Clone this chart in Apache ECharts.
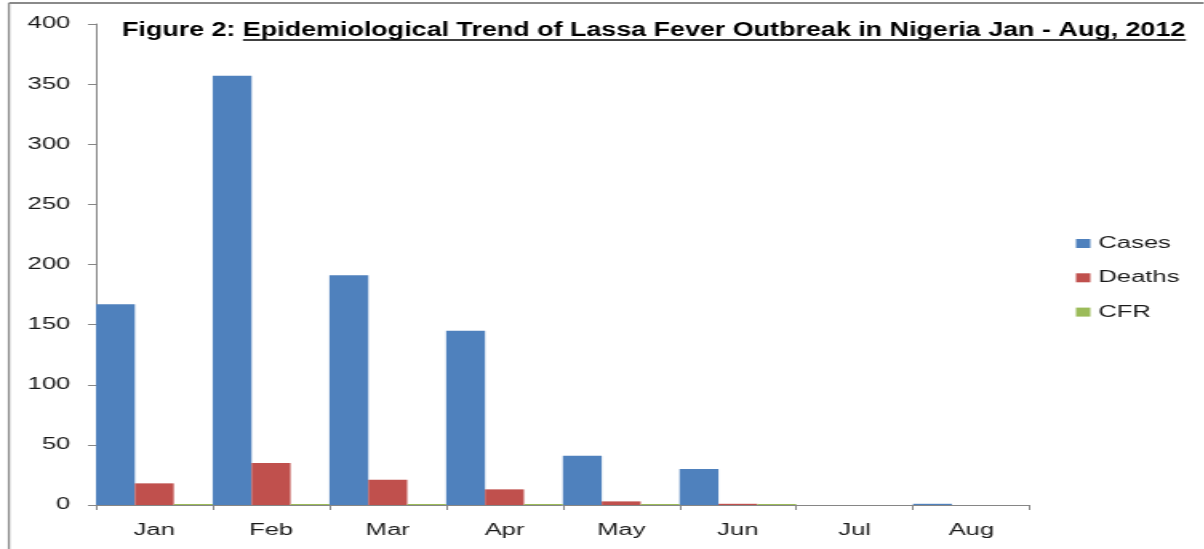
<!DOCTYPE html>
<html><head><meta charset="utf-8">
<script src="https://cdn.jsdelivr.net/npm/echarts@6/dist/echarts.min.js"></script>
<style>
html,body{margin:0;padding:0;background:#fff;overflow:hidden;width:1204px;height:549px;}
#chart{width:752.5px;height:549px;transform:scaleX(1.6);transform-origin:0 0;}
</style></head><body><div id="chart"></div>
<script>
const categories = ['Jan', 'Feb', 'Mar', 'Apr', 'May', 'Jun', 'Jul', 'Aug'];
const cases  = [167, 357, 191, 145, 41, 30, 0, 1];
const deaths = [18, 35, 21, 13, 3, 1, 0, 0];
const cfr    = [0.11, 0.10, 0.11, 0.09, 0.07, 0.03, null, null];
const seriesNames = ['Cases', 'Deaths', 'CFR'];
const yMin = 0, yMax = 400, yStep = 50;
const titleLead = 'Figure 2: ';
const titleMain = 'Epidemiological Trend of Lassa Fever Outbreak in Nigeria Jan - Aug, 2012';

const SX = 1.6;
const FONT = '"Liberation Sans", Arial, sans-serif';
const ctx = document.createElement('canvas').getContext('2d');
function tw(t, size, weight) { ctx.font = weight + ' ' + size + 'px ' + FONT; return ctx.measureText(t).width; }
const titleLeft = 122 / SX, titleRight = 1186 / SX;
const TK = 0.82; // horizontal squeeze of the title glyphs (narrower face look)
const tSize = 100 * (titleRight - titleLeft) / (tw(titleLead + titleMain, 100, 'bold') * TK);
const leadW = tw(titleLead, tSize, 'bold') * TK;

const colors = ['#4F81BD', '#C0504D', '#9BBB59'];
const axisColor = '#868686';
const textColor = '#1a1a1a';

const chart = echarts.init(document.getElementById('chart'), null, {renderer: 'canvas'});
chart.setOption({
  animation: false,
  color: colors,
  grid: {left: 60, right: 109.4, top: 24, bottom: 44, containLabel: false},
  legend: {
    data: seriesNames,
    orient: 'vertical',
    left: 672.5,
    top: 235.5,
    padding: 0,
    icon: 'rect',
    itemWidth: 9,
    itemHeight: 9,
    itemGap: 18.3,
    textStyle: {fontFamily: FONT, fontSize: 16, color: textColor, lineHeight: 16, padding: [0, 0, 0, 0]},
    selectedMode: false
  },
  xAxis: {
    type: 'category',
    data: categories,
    boundaryGap: true,
    axisLine: {show: true, lineStyle: {color: axisColor, width: 1}},
    axisTick: {show: true, length: 5, interval: 0, alignWithLabel: false, lineStyle: {color: axisColor}},
    axisLabel: {fontFamily: FONT, fontSize: 16, color: textColor, margin: 18, interval: 0},
    splitLine: {show: false}
  },
  yAxis: {
    type: 'value',
    min: yMin, max: yMax, interval: yStep,
    axisLine: {show: true, lineStyle: {color: axisColor, width: 1}},
    axisTick: {show: true, length: 5, lineStyle: {color: axisColor}},
    axisLabel: {fontFamily: FONT, fontSize: 16, color: textColor, margin: 16},
    splitLine: {show: false}
  },
  series: [
    {name: seriesNames[0], type: 'bar', data: cases, barGap: '0%', barCategoryGap: '0%', itemStyle: {color: colors[0]}},
    {name: seriesNames[1], type: 'bar', data: deaths, itemStyle: {color: colors[1]}},
    {name: seriesNames[2], type: 'bar', data: cfr, barMinHeight: 1, itemStyle: {color: colors[2]}}
  ],
  graphic: [
    {type: 'line', shape: {x1: 5.6, y1: 3, x2: 752.5, y2: 3}, style: {stroke: '#8a8a8a', lineWidth: 2}, silent: true},
    {type: 'line', shape: {x1: 5.6, y1: 3, x2: 5.6, y2: 549}, style: {stroke: '#8a8a8a', lineWidth: 1.3}, silent: true},
    {type: 'text', x: titleLeft, y: 30, scaleX: TK, style: {text: titleLead, font: 'bold ' + tSize + 'px ' + FONT, fill: '#000', textVerticalAlign: 'middle', textAlign: 'left'}},
    {type: 'text', x: titleLeft + leadW, y: 30, scaleX: TK, style: {text: titleMain, font: 'bold ' + tSize + 'px ' + FONT, fill: '#000', textVerticalAlign: 'middle', textAlign: 'left'}},
    {type: 'line', shape: {x1: titleLeft + leadW, y1: 40, x2: titleRight, y2: 40}, style: {stroke: '#000', lineWidth: 1.6}, silent: true}
  ]
});
</script></body></html>
